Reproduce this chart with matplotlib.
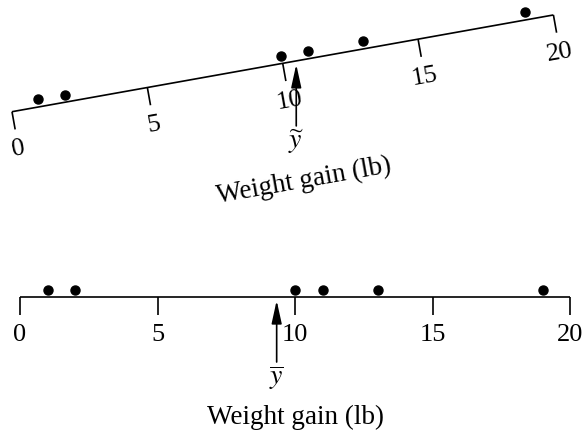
"""Two dot plots of the same weight gains: a tilted scale balanced at the
median, and a level scale with the mean marked."""

import matplotlib

matplotlib.use("Agg")
import matplotlib.pyplot as plt
import numpy as np
from matplotlib.transforms import Affine2D

weights = [1, 2, 10, 11, 13, 19]
tick_values = [0, 5, 10, 15, 20]
axis_label = "Weight gain (lb)"

plt.rcParams["font.family"] = ["Liberation Serif", "DejaVu Serif"]
plt.rcParams["mathtext.fontset"] = "stix"

PX = 27.5  # pixels per lb on both scales

# ── layout (in lb units, y up) ──────────────────────────────────────────────
TICK_LEN = 18 / PX
DOT_OFF = 7.5 / PX
LABEL_OFF = 38 / PX
TITLE_OFF = 120 / PX
ARROW_TIP = 3.5 / PX
ARROW_BASE = 65 / PX
STAT_OFF = 81 / PX

TOP_ORIGIN = ((12 - 20) / PX, (297 - 111.7) / PX)
TOP_ANGLE = 10.13


def draw_scale(ax, origin, angle, stat_value, stat_label):
    place = Affine2D().rotate_deg(angle).translate(*origin)
    trans = place + ax.transData
    kw = dict(color="black", lw=1.2, solid_capstyle="butt", transform=trans)

    ax.plot([tick_values[0], tick_values[-1]], [0, 0], **kw)
    for t in tick_values:
        ax.plot([t, t], [0, -TICK_LEN], **kw)
        ax.text(t, -LABEL_OFF, str(t), transform=trans, rotation=angle,
                rotation_mode="anchor", ha="center", va="center", fontsize=19)

    ax.plot(weights, [DOT_OFF] * len(weights), "o", color="black", ms=6.5,
            transform=trans)

    ax.text(np.mean(tick_values), -TITLE_OFF, axis_label, transform=trans,
            rotation=angle, rotation_mode="anchor", ha="center", va="center",
            fontsize=19.5)

    # the statistic arrow always points straight up to the scale
    ax_x, ax_y = place.transform((stat_value, 0))
    ax.annotate("", xy=(ax_x, ax_y - ARROW_TIP), xytext=(ax_x, ax_y - ARROW_BASE),
                arrowprops=dict(arrowstyle="-|>,head_length=1.0,head_width=0.22",
                                color="black", lw=1.2, mutation_scale=14,
                                shrinkA=0, shrinkB=0))
    ax.text(ax_x, ax_y - STAT_OFF, stat_label, ha="center", va="center",
            fontsize=20)


fig = plt.figure(figsize=(5.83, 4.32), dpi=100)
ax = fig.add_axes([0, 0, 1, 1])
ax.set_xlim(-20 / PX, 563 / PX)
ax.set_ylim(-135 / PX, 297 / PX)
ax.axis("off")

draw_scale(ax, TOP_ORIGIN, TOP_ANGLE, np.median(weights), r"$\widetilde{y}$")
draw_scale(ax, (0, 0), 0, np.mean(weights), r"$\overline{y}$")

fig.savefig("out.png", dpi=100, facecolor="white")
